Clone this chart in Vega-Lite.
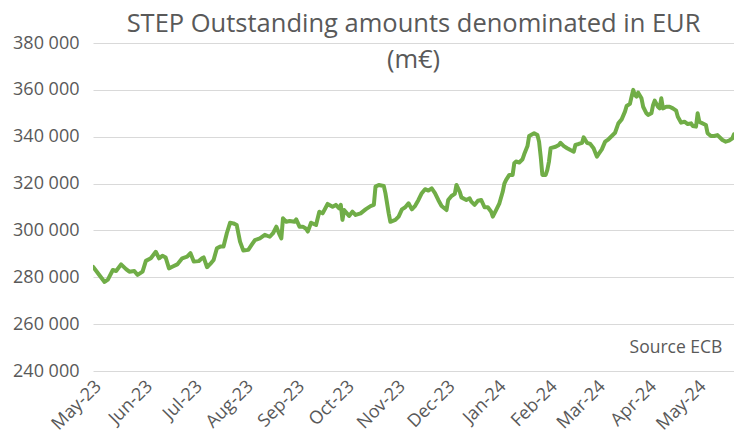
{
  "$schema": "https://vega.github.io/schema/vega-lite/v6.json",
  "width": 641,
  "height": 328,
  "autosize": {"type": "none"},
  "padding": {"left": 93, "top": 43, "right": 0, "bottom": 68},
  "background": "white",
  "title": {
    "text": ["STEP Outstanding amounts denominated in EUR", "(m€)"],
    "font": "Open Sans",
    "fontSize": 25.5,
    "fontWeight": "normal",
    "color": "#595959",
    "anchor": "middle",
    "frame": "group",
    "baseline": "top",
    "offset": -39,
    "lineHeight": 36
  },
  "config": {
    "locale": {"number": {"decimal": ",", "thousands": " ", "grouping": [3], "currency": ["", " €"]}},
    "view": {"stroke": null},
    "font": "Open Sans"
  },
  "datasets": {
    "step": [
      {"date": "2023-05-01", "value": 284500},
      {"date": "2023-05-04", "value": 281700},
      {"date": "2023-05-08", "value": 278000},
      {"date": "2023-05-10", "value": 279000},
      {"date": "2023-05-13", "value": 283100},
      {"date": "2023-05-15", "value": 282700},
      {"date": "2023-05-18", "value": 285500},
      {"date": "2023-05-21", "value": 283500},
      {"date": "2023-05-23", "value": 282400},
      {"date": "2023-05-26", "value": 282700},
      {"date": "2023-05-28", "value": 281000},
      {"date": "2023-05-31", "value": 282400},
      {"date": "2023-06-02", "value": 287000},
      {"date": "2023-06-05", "value": 288100},
      {"date": "2023-06-08", "value": 290900},
      {"date": "2023-06-10", "value": 288100},
      {"date": "2023-06-12", "value": 289200},
      {"date": "2023-06-14", "value": 288400},
      {"date": "2023-06-16", "value": 283800},
      {"date": "2023-06-18", "value": 284500},
      {"date": "2023-06-21", "value": 285500},
      {"date": "2023-06-24", "value": 288100},
      {"date": "2023-06-27", "value": 288800},
      {"date": "2023-06-29", "value": 290300},
      {"date": "2023-07-01", "value": 286700},
      {"date": "2023-07-04", "value": 286900},
      {"date": "2023-07-06", "value": 288100},
      {"date": "2023-07-07", "value": 288500},
      {"date": "2023-07-09", "value": 284300},
      {"date": "2023-07-11", "value": 285700},
      {"date": "2023-07-13", "value": 287400},
      {"date": "2023-07-15", "value": 292400},
      {"date": "2023-07-17", "value": 293100},
      {"date": "2023-07-19", "value": 293100},
      {"date": "2023-07-21", "value": 298800},
      {"date": "2023-07-23", "value": 303300},
      {"date": "2023-07-25", "value": 303000},
      {"date": "2023-07-27", "value": 302300},
      {"date": "2023-07-29", "value": 295200},
      {"date": "2023-07-31", "value": 291400},
      {"date": "2023-08-03", "value": 291700},
      {"date": "2023-08-05", "value": 293800},
      {"date": "2023-08-07", "value": 295900},
      {"date": "2023-08-10", "value": 296600},
      {"date": "2023-08-13", "value": 298100},
      {"date": "2023-08-16", "value": 297300},
      {"date": "2023-08-18", "value": 298800},
      {"date": "2023-08-20", "value": 301600},
      {"date": "2023-08-22", "value": 298100},
      {"date": "2023-08-23", "value": 296600},
      {"date": "2023-08-24", "value": 305200},
      {"date": "2023-08-26", "value": 303700},
      {"date": "2023-08-28", "value": 304000},
      {"date": "2023-08-31", "value": 303700},
      {"date": "2023-09-01", "value": 304700},
      {"date": "2023-09-03", "value": 301600},
      {"date": "2023-09-05", "value": 301600},
      {"date": "2023-09-07", "value": 300700},
      {"date": "2023-09-08", "value": 299500},
      {"date": "2023-09-10", "value": 303300},
      {"date": "2023-09-13", "value": 302300},
      {"date": "2023-09-15", "value": 308000},
      {"date": "2023-09-17", "value": 307300},
      {"date": "2023-09-20", "value": 311300},
      {"date": "2023-09-23", "value": 310100},
      {"date": "2023-09-25", "value": 310900},
      {"date": "2023-09-27", "value": 309400},
      {"date": "2023-09-28", "value": 310900},
      {"date": "2023-09-29", "value": 304500},
      {"date": "2023-09-30", "value": 308700},
      {"date": "2023-10-03", "value": 306200},
      {"date": "2023-10-05", "value": 308000},
      {"date": "2023-10-07", "value": 306600},
      {"date": "2023-10-10", "value": 307300},
      {"date": "2023-10-13", "value": 309000},
      {"date": "2023-10-16", "value": 310400},
      {"date": "2023-10-18", "value": 310900},
      {"date": "2023-10-19", "value": 318700},
      {"date": "2023-10-21", "value": 319400},
      {"date": "2023-10-24", "value": 319000},
      {"date": "2023-10-25", "value": 315900},
      {"date": "2023-10-27", "value": 307300},
      {"date": "2023-10-28", "value": 303700},
      {"date": "2023-10-31", "value": 304500},
      {"date": "2023-11-02", "value": 305900},
      {"date": "2023-11-04", "value": 309000},
      {"date": "2023-11-06", "value": 309900},
      {"date": "2023-11-08", "value": 311600},
      {"date": "2023-11-10", "value": 309000},
      {"date": "2023-11-12", "value": 310500},
      {"date": "2023-11-14", "value": 313000},
      {"date": "2023-11-16", "value": 315900},
      {"date": "2023-11-18", "value": 317600},
      {"date": "2023-11-20", "value": 317000},
      {"date": "2023-11-22", "value": 318000},
      {"date": "2023-11-24", "value": 315900},
      {"date": "2023-11-26", "value": 313000},
      {"date": "2023-11-28", "value": 310400},
      {"date": "2023-12-01", "value": 308700},
      {"date": "2023-12-02", "value": 313000},
      {"date": "2023-12-04", "value": 314700},
      {"date": "2023-12-06", "value": 315600},
      {"date": "2023-12-07", "value": 319400},
      {"date": "2023-12-09", "value": 316500},
      {"date": "2023-12-10", "value": 314100},
      {"date": "2023-12-13", "value": 313000},
      {"date": "2023-12-15", "value": 313700},
      {"date": "2023-12-16", "value": 312300},
      {"date": "2023-12-18", "value": 310900},
      {"date": "2023-12-20", "value": 312700},
      {"date": "2023-12-22", "value": 313000},
      {"date": "2023-12-24", "value": 309900},
      {"date": "2023-12-26", "value": 309900},
      {"date": "2023-12-28", "value": 308000},
      {"date": "2023-12-29", "value": 305900},
      {"date": "2023-12-31", "value": 308700},
      {"date": "2024-01-02", "value": 311600},
      {"date": "2024-01-04", "value": 316500},
      {"date": "2024-01-05", "value": 320000},
      {"date": "2024-01-06", "value": 321500},
      {"date": "2024-01-08", "value": 323700},
      {"date": "2024-01-10", "value": 323700},
      {"date": "2024-01-11", "value": 328700},
      {"date": "2024-01-12", "value": 329400},
      {"date": "2024-01-14", "value": 329000},
      {"date": "2024-01-16", "value": 330400},
      {"date": "2024-01-17", "value": 332500},
      {"date": "2024-01-19", "value": 336000},
      {"date": "2024-01-20", "value": 340300},
      {"date": "2024-01-23", "value": 341500},
      {"date": "2024-01-25", "value": 340700},
      {"date": "2024-01-26", "value": 337900},
      {"date": "2024-01-27", "value": 331500},
      {"date": "2024-01-28", "value": 323700},
      {"date": "2024-01-30", "value": 323700},
      {"date": "2024-01-31", "value": 325800},
      {"date": "2024-02-01", "value": 329400},
      {"date": "2024-02-02", "value": 335100},
      {"date": "2024-02-05", "value": 335700},
      {"date": "2024-02-07", "value": 336500},
      {"date": "2024-02-08", "value": 337400},
      {"date": "2024-02-10", "value": 336000},
      {"date": "2024-02-12", "value": 335100},
      {"date": "2024-02-14", "value": 334300},
      {"date": "2024-02-16", "value": 333600},
      {"date": "2024-02-17", "value": 336500},
      {"date": "2024-02-19", "value": 336900},
      {"date": "2024-02-21", "value": 337400},
      {"date": "2024-02-22", "value": 339700},
      {"date": "2024-02-24", "value": 337400},
      {"date": "2024-02-26", "value": 336900},
      {"date": "2024-02-28", "value": 335100},
      {"date": "2024-03-01", "value": 331500},
      {"date": "2024-03-02", "value": 332600},
      {"date": "2024-03-04", "value": 334600},
      {"date": "2024-03-06", "value": 337900},
      {"date": "2024-03-08", "value": 338900},
      {"date": "2024-03-10", "value": 340300},
      {"date": "2024-03-12", "value": 341700},
      {"date": "2024-03-14", "value": 345700},
      {"date": "2024-03-16", "value": 347400},
      {"date": "2024-03-18", "value": 350700},
      {"date": "2024-03-19", "value": 353100},
      {"date": "2024-03-21", "value": 354000},
      {"date": "2024-03-22", "value": 357100},
      {"date": "2024-03-23", "value": 360000},
      {"date": "2024-03-24", "value": 357800},
      {"date": "2024-03-25", "value": 357100},
      {"date": "2024-03-26", "value": 358800},
      {"date": "2024-03-28", "value": 356400},
      {"date": "2024-03-29", "value": 352800},
      {"date": "2024-03-31", "value": 350000},
      {"date": "2024-04-01", "value": 349300},
      {"date": "2024-04-03", "value": 350000},
      {"date": "2024-04-04", "value": 353500},
      {"date": "2024-04-05", "value": 355400},
      {"date": "2024-04-07", "value": 352800},
      {"date": "2024-04-08", "value": 352100},
      {"date": "2024-04-09", "value": 356400},
      {"date": "2024-04-10", "value": 352100},
      {"date": "2024-04-12", "value": 352800},
      {"date": "2024-04-14", "value": 352800},
      {"date": "2024-04-16", "value": 352100},
      {"date": "2024-04-18", "value": 351100},
      {"date": "2024-04-19", "value": 348500},
      {"date": "2024-04-21", "value": 346000},
      {"date": "2024-04-23", "value": 346400},
      {"date": "2024-04-25", "value": 345400},
      {"date": "2024-04-27", "value": 345700},
      {"date": "2024-04-28", "value": 344600},
      {"date": "2024-04-30", "value": 344300},
      {"date": "2024-05-01", "value": 350000},
      {"date": "2024-05-02", "value": 346400},
      {"date": "2024-05-03", "value": 346000},
      {"date": "2024-05-06", "value": 345000},
      {"date": "2024-05-07", "value": 341500},
      {"date": "2024-05-09", "value": 340300},
      {"date": "2024-05-11", "value": 340300},
      {"date": "2024-05-13", "value": 340700},
      {"date": "2024-05-16", "value": 338600},
      {"date": "2024-05-18", "value": 337900},
      {"date": "2024-05-20", "value": 338300},
      {"date": "2024-05-22", "value": 339300},
      {"date": "2024-05-23", "value": 341000}
    ],
    "note": [
      {"date": "2024-05-16", "value": 250000, "label": "Source ECB"}
    ]
  },
  "layer": [
    {
      "data": {"name": "step"},
      "mark": {"type": "line", "color": "#70AD47", "strokeWidth": 4, "strokeJoin": "round", "strokeCap": "round", "clip": true},
      "encoding": {
        "x": {
          "field": "date",
          "type": "temporal",
          "scale": {"type": "utc", "domain": ["2023-05-01", "2024-05-23"]},
          "axis": {
            "title": null,
            "format": "%b-%y",
            "tickCount": {"interval": "month", "step": 1},
            "labelAngle": -45,
            "labelAlign": "right",
            "labelBaseline": "top",
            "labelPadding": 6,
            "labelOffset": -1,
            "labelFont": "Open Sans",
            "labelFontSize": 18,
            "labelColor": "#595959",
            "labelOverlap": false,
            "labelFlush": false,
            "domain": false,
            "ticks": false,
            "grid": false
          }
        },
        "y": {
          "field": "value",
          "type": "quantitative",
          "scale": {"domain": [240000, 380000], "nice": false, "zero": false},
          "axis": {
            "title": null,
            "values": [240000, 260000, 280000, 300000, 320000, 340000, 360000, 380000],
            "format": ",d",
            "labelFont": "Open Sans",
            "labelFontSize": 18,
            "labelColor": "#595959",
            "labelPadding": 14,
            "domain": false,
            "ticks": false,
            "grid": true,
            "gridColor": "#D9D9D9",
            "gridWidth": 1.2
          }
        }
      }
    },
    {
      "data": {"name": "note"},
      "mark": {"type": "text", "align": "right", "baseline": "middle", "font": "Open Sans", "fontSize": 17.5, "color": "#595959"},
      "encoding": {
        "x": {"field": "date", "type": "temporal"},
        "y": {"field": "value", "type": "quantitative"},
        "text": {"field": "label"}
      }
    }
  ]
}
